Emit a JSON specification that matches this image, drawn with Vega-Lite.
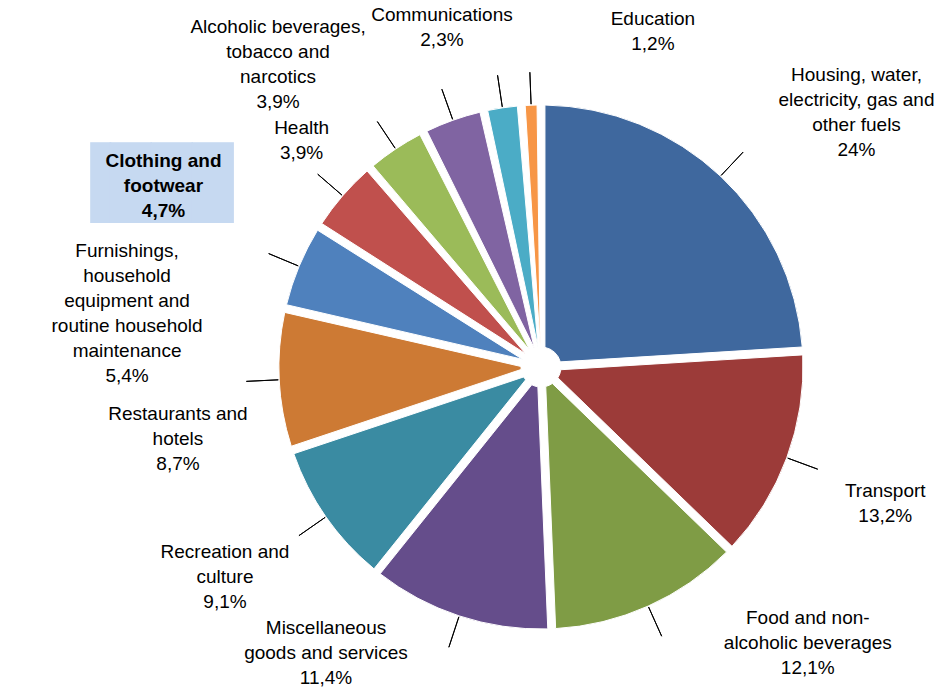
{
  "$schema": "https://vega.github.io/schema/vega-lite/v6.json",
  "width": 800,
  "height": 654,
  "autosize": {"type": "none"},
  "padding": {"left": 141, "top": 40, "right": 0, "bottom": 0},
  "background": "#ffffff",
  "config": {"view": {"stroke": null}, "text": {"font": "Liberation Sans"}},
  "data": {
    "values": [
      {"order": 1, "category": "Housing, water, electricity, gas and other fuels", "value": 24.0, "label": "Housing, water,\nelectricity, gas and\nother fuels\n24%"},
      {"order": 2, "category": "Transport", "value": 13.2, "label": "Transport\n13,2%"},
      {"order": 3, "category": "Food and non-alcoholic beverages", "value": 12.1, "label": "Food and non-\nalcoholic beverages\n12,1%"},
      {"order": 4, "category": "Miscellaneous goods and services", "value": 11.4, "label": "Miscellaneous\ngoods and services\n11,4%"},
      {"order": 5, "category": "Recreation and culture", "value": 9.1, "label": "Recreation and\nculture\n9,1%"},
      {"order": 6, "category": "Restaurants and hotels", "value": 8.7, "label": "Restaurants and\nhotels\n8,7%"},
      {"order": 7, "category": "Furnishings, household equipment and routine household maintenance", "value": 5.4, "label": "Furnishings,\nhousehold\nequipment and\nroutine household\nmaintenance\n5,4%"},
      {"order": 8, "category": "Clothing and footwear", "value": 4.7, "label": "Clothing and\nfootwear\n4,7%"},
      {"order": 9, "category": "Health", "value": 3.9, "label": "Health\n3,9%"},
      {"order": 10, "category": "Alcoholic beverages, tobacco and narcotics", "value": 3.9, "label": "Alcoholic beverages,\ntobacco and\nnarcotics\n3,9%"},
      {"order": 11, "category": "Communications", "value": 2.3, "label": "Communications\n2,3%"},
      {"order": 12, "category": "Education", "value": 1.2, "label": "Education\n1,2%"}
    ]
  },
  "resolve": {"scale": {"theta": "independent"}},
  "layer": [
    {
      "mark": {"type": "arc", "outerRadius": 262, "innerRadius": 20, "padAngle": 0.03, "stroke": "#ffffff", "strokeWidth": 1},
      "encoding": {
        "theta": {"field": "value", "type": "quantitative", "stack": true},
        "order": {"field": "order", "type": "quantitative"},
        "color": {
          "field": "category",
          "type": "nominal",
          "legend": null,
          "scale": {
            "domain": ["Housing, water, electricity, gas and other fuels", "Transport", "Food and non-alcoholic beverages", "Miscellaneous goods and services", "Recreation and culture", "Restaurants and hotels", "Furnishings, household equipment and routine household maintenance", "Clothing and footwear", "Health", "Alcoholic beverages, tobacco and narcotics", "Communications", "Education"],
            "range": ["#3F689E", "#9C3B39", "#7F9C45", "#654D8B", "#3A8BA2", "#CD7A34", "#4F81BD", "#C0504D", "#9BBB59", "#8064A2", "#4BACC6", "#F79646"]
          }
        }
      }
    },
    {
      "mark": {"type": "arc", "innerRadius": 263, "outerRadius": 295, "padAngle": 3, "fillOpacity": 0, "stroke": "#000000", "strokeWidth": 1},
      "encoding": {
        "theta": {"field": "value", "type": "quantitative", "stack": true},
        "order": {"field": "order", "type": "quantitative"}
      }
    },
    {
      "mark": {"type": "text", "radius": 366, "align": "center", "baseline": "middle", "lineBreak": "\n", "fontSize": 19, "lineHeight": 25, "font": "Liberation Sans", "color": "#000000"},
      "encoding": {
        "theta": {"field": "value", "type": "quantitative", "stack": true, "scale": {"type": "linear", "nice": false, "zero": false, "domain": [12, 30.6, 43.25, 55, 65.25, 74.15, 81.2, 86.25, 90.55, 94.45, 97.55, 99.3], "range": [0.8238, 1.91724, 2.32478, 3.831, 4.18356, 4.58498, 4.98641, 5.21156, 5.49604, 5.6252, 6.00917, 6.59386]}},
        "order": {"field": "order", "type": "quantitative"},
        "text": {"condition": {"test": "indexof([2, 3, 5, 6, 11, 12], datum.order) >= 0", "field": "label", "type": "nominal"}, "value": ""}
      }
    },
    {
      "mark": {"type": "text", "radius": 430, "align": "center", "baseline": "middle", "lineBreak": "\n", "fontSize": 19, "lineHeight": 25, "font": "Liberation Sans", "color": "#000000"},
      "encoding": {
        "theta": {"field": "value", "type": "quantitative", "stack": true, "scale": {"type": "linear", "nice": false, "zero": false, "domain": [12, 30.6, 43.25, 55, 65.25, 74.15, 81.2, 86.25, 90.55, 94.45, 97.55, 99.3], "range": [0.8238, 1.91724, 2.32478, 3.831, 4.18356, 4.58498, 4.98641, 5.21156, 5.49604, 5.6252, 6.00917, 6.59386]}},
        "order": {"field": "order", "type": "quantitative"},
        "text": {"condition": {"test": "indexof([1, 7, 10], datum.order) >= 0", "field": "label", "type": "nominal"}, "value": ""}
      }
    },
    {
      "mark": {"type": "text", "radius": 430, "align": "center", "baseline": "middle", "font": "DejaVu Sans Mono", "fontSize": 68, "dx": -12, "dy": 25, "color": "#C6D9F1"},
      "encoding": {
        "theta": {"field": "value", "type": "quantitative", "stack": true, "scale": {"type": "linear", "nice": false, "zero": false, "domain": [12, 30.6, 43.25, 55, 65.25, 74.15, 81.2, 86.25, 90.55, 94.45, 97.55, 99.3], "range": [0.8238, 1.91724, 2.32478, 3.831, 4.18356, 4.58498, 4.98641, 5.21156, 5.49604, 5.6252, 6.00917, 6.59386]}},
        "order": {"field": "order", "type": "quantitative"},
        "text": {"condition": {"test": "datum.order == 8", "value": "▐███"}, "value": ""}
      }
    },
    {
      "mark": {"type": "text", "radius": 430, "align": "center", "baseline": "middle", "lineBreak": "\n", "fontSize": 19, "lineHeight": 25, "font": "Liberation Sans", "fontWeight": "bold", "color": "#000000"},
      "encoding": {
        "theta": {"field": "value", "type": "quantitative", "stack": true, "scale": {"type": "linear", "nice": false, "zero": false, "domain": [12, 30.6, 43.25, 55, 65.25, 74.15, 81.2, 86.25, 90.55, 94.45, 97.55, 99.3], "range": [0.8238, 1.91724, 2.32478, 3.831, 4.18356, 4.58498, 4.98641, 5.21156, 5.49604, 5.6252, 6.00917, 6.59386]}},
        "order": {"field": "order", "type": "quantitative"},
        "text": {"condition": {"test": "datum.order == 8", "field": "label", "type": "nominal"}, "value": ""}
      }
    },
    {
      "mark": {"type": "text", "radius": 338, "align": "center", "baseline": "middle", "lineBreak": "\n", "fontSize": 19, "lineHeight": 25, "font": "Liberation Sans", "color": "#000000"},
      "encoding": {
        "theta": {"field": "value", "type": "quantitative", "stack": true, "scale": {"type": "linear", "nice": false, "zero": false, "domain": [12, 30.6, 43.25, 55, 65.25, 74.15, 81.2, 86.25, 90.55, 94.45, 97.55, 99.3], "range": [0.8238, 1.91724, 2.32478, 3.831, 4.18356, 4.58498, 4.98641, 5.21156, 5.49604, 5.6252, 6.00917, 6.59386]}},
        "order": {"field": "order", "type": "quantitative"},
        "text": {"condition": {"test": "indexof([4, 9], datum.order) >= 0", "field": "label", "type": "nominal"}, "value": ""}
      }
    }
  ]
}
